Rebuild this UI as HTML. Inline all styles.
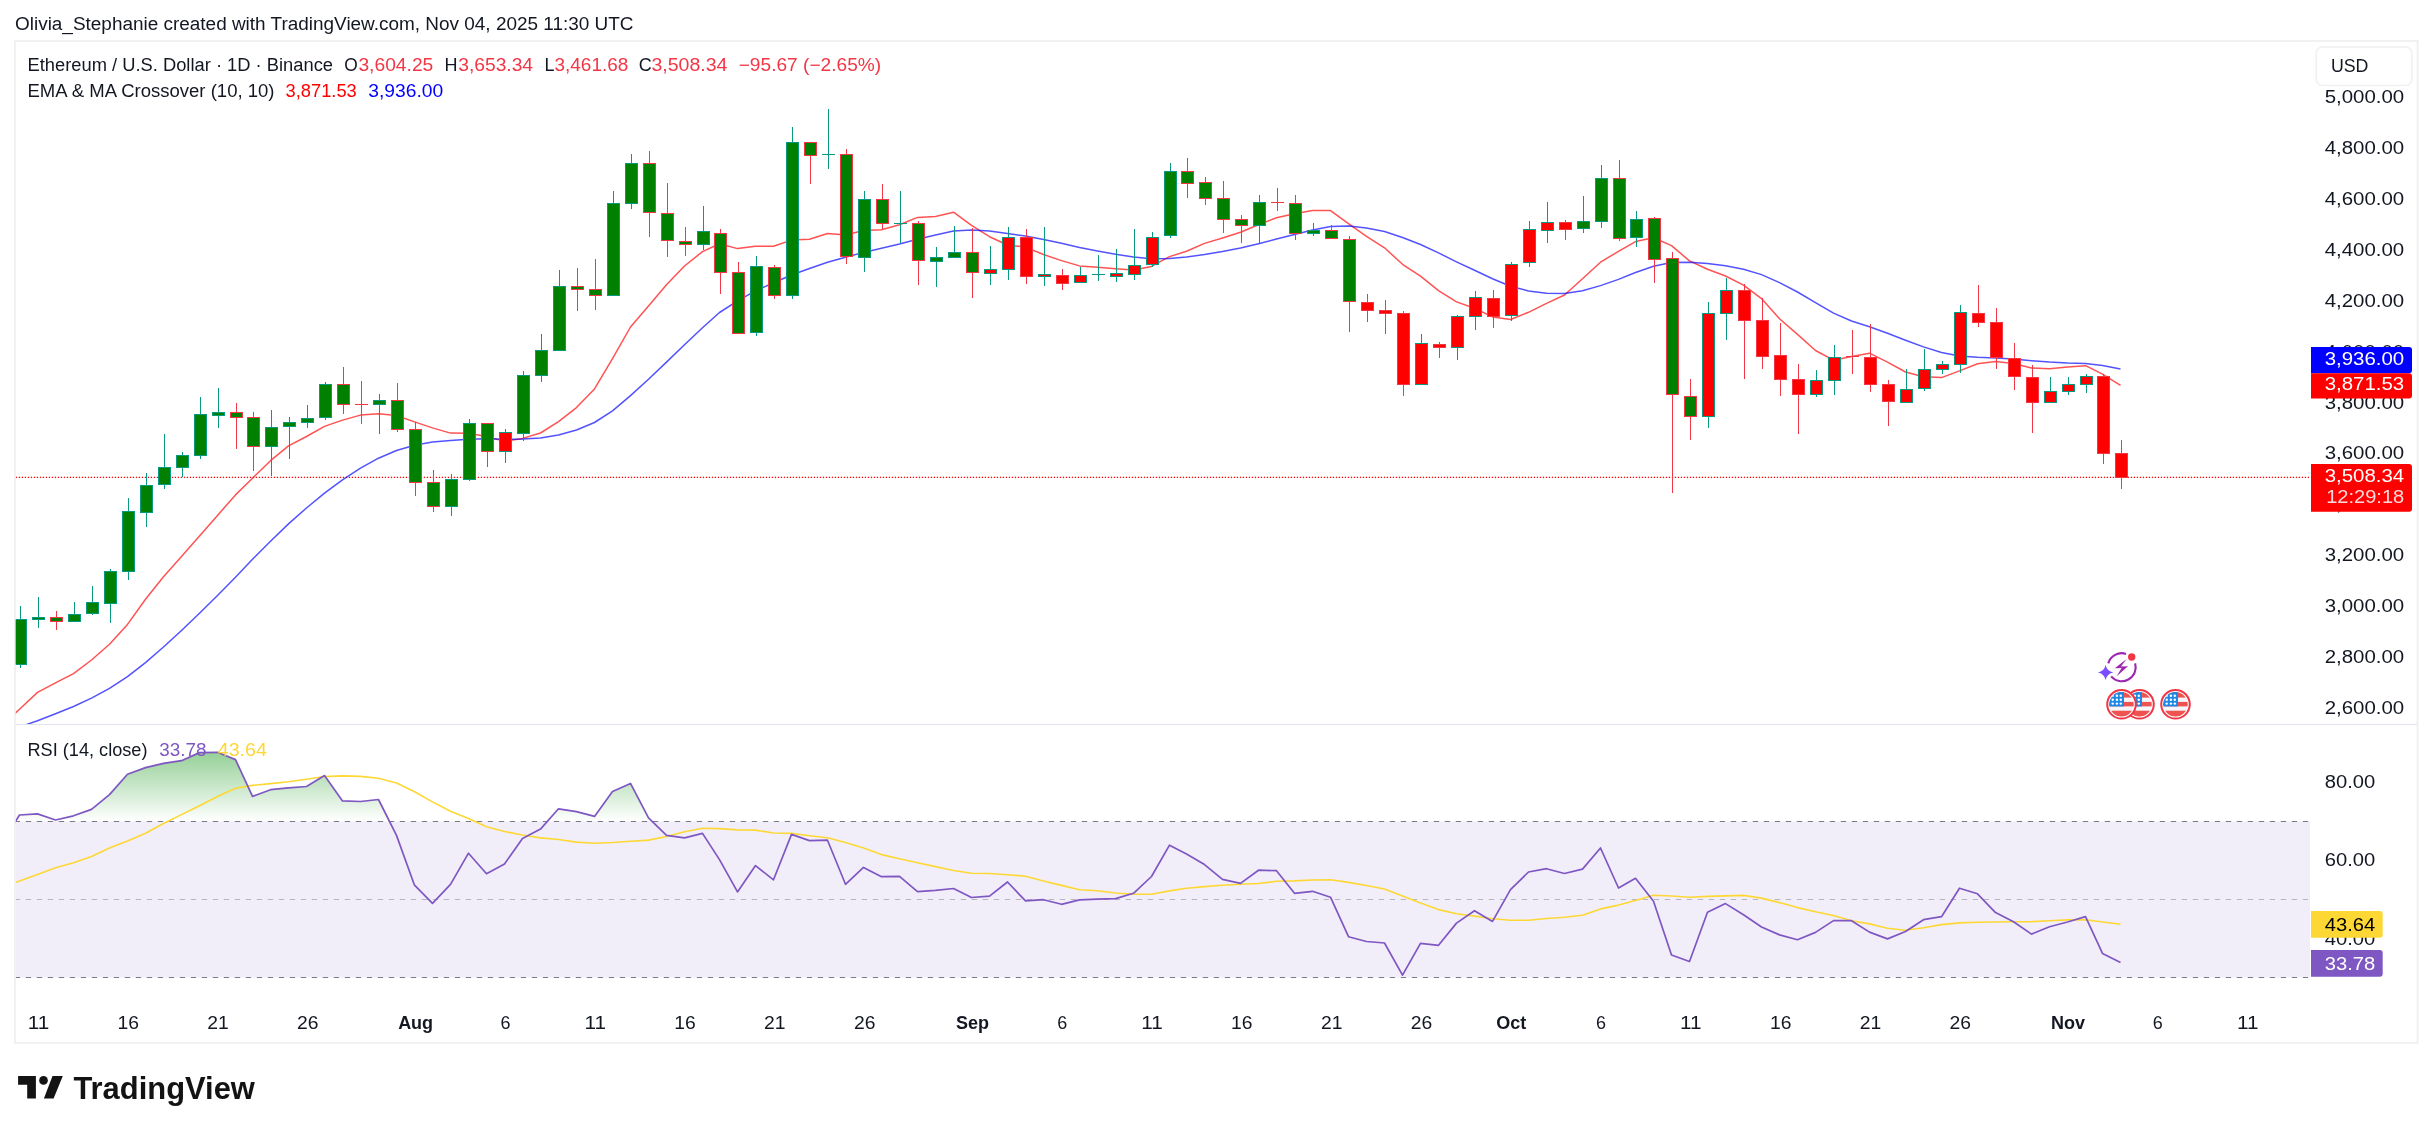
<!DOCTYPE html>
<html><head><meta charset="utf-8"><title>ETH/USD TradingView</title>
<style>
html,body{margin:0;padding:0;background:#fff;width:2433px;height:1133px;overflow:hidden}
svg{position:absolute;left:0;top:0;display:block;will-change:transform}
text{font-family:"Liberation Sans",sans-serif;font-size:18px;fill:#131722}
</style></head><body>
<svg width="2433" height="1133" viewBox="0 0 2433 1133">
<defs>
<clipPath id="cm"><rect x="15.8" y="41.8" width="2294.2" height="682.2"/></clipPath>
<clipPath id="cr"><rect x="15.8" y="725.0" width="2294.2" height="268.0"/></clipPath>
<linearGradient id="gob" gradientUnits="userSpaceOnUse" x1="0" y1="704.5" x2="0" y2="821.5">
<stop offset="0" stop-color="#4CAF50" stop-opacity="1"/><stop offset="1" stop-color="#4CAF50" stop-opacity="0"/></linearGradient>
<linearGradient id="gos" gradientUnits="userSpaceOnUse" x1="0" y1="977.5" x2="0" y2="1094.5">
<stop offset="0" stop-color="#F23645" stop-opacity="0"/><stop offset="1" stop-color="#F23645" stop-opacity="1"/></linearGradient>
</defs>
<rect x="0" y="0" width="2433" height="1133" fill="#fff"/>

<text x="15" y="30.3" textLength="618.5" lengthAdjust="spacingAndGlyphs">Olivia_Stephanie created with TradingView.com, Nov 04, 2025 11:30 UTC</text>
<rect x="15" y="41" width="2402.6" height="1002" fill="none" stroke="#f1f1f2" stroke-width="2"/>
<g clip-path="url(#cm)">
<line x1="15.8" y1="477.4" x2="2309" y2="477.4" stroke="#FF0000" stroke-width="1.3" stroke-dasharray="1.3 1.7"/>
<polyline points="1.5,726.0 19.5,709.2 37.5,692.4 55.5,682.9 73.5,673.6 91.5,660.0 109.5,644.2 127.5,624.4 145.5,599.2 163.5,576.7 181.5,556.4 199.5,535.9 217.5,515.4 235.5,494.9 252.5,478.2 270.5,460.7 288.5,445.8 306.5,436.5 324.5,426.4 342.5,420.1 360.5,415.1 378.5,413.7 396.5,415.5 414.5,421.9 432.5,427.9 450.5,433.1 468.5,433.2 486.5,436.6 504.5,441.4 522.5,438.4 540.5,433.0 558.5,421.6 576.5,407.6 594.5,388.9 612.5,358.6 630.5,327.0 648.5,305.9 666.5,284.8 684.5,266.0 702.5,251.6 719.5,243.8 737.5,248.6 755.5,246.2 773.5,246.2 791.5,240.1 809.5,239.3 827.5,233.5 845.5,235.1 863.5,230.5 881.5,229.7 899.5,224.8 917.5,217.4 935.5,216.6 953.5,212.2 971.5,225.3 989.5,236.7 1007.5,245.0 1025.5,247.1 1043.5,254.5 1061.5,260.6 1079.5,265.9 1097.5,267.2 1115.5,268.8 1133.5,270.0 1151.5,266.4 1169.5,256.6 1186.5,251.3 1204.5,243.4 1222.5,238.0 1240.5,232.2 1258.5,224.8 1276.5,217.7 1294.5,213.8 1312.5,210.4 1330.5,210.6 1348.5,223.6 1366.5,236.3 1384.5,247.8 1402.5,264.3 1420.5,276.1 1438.5,290.6 1456.5,301.9 1474.5,308.3 1492.5,316.9 1510.5,319.5 1528.5,312.3 1546.5,303.4 1564.5,295.0 1582.5,278.7 1600.5,262.2 1618.5,251.3 1635.5,241.6 1653.5,237.8 1671.5,245.6 1689.5,260.9 1707.5,269.2 1725.5,276.0 1743.5,285.1 1761.5,298.6 1779.5,318.8 1797.5,334.4 1815.5,350.5 1833.5,360.2 1851.5,356.4 1869.5,353.2 1887.5,362.1 1905.5,372.0 1923.5,376.8 1941.5,377.6 1959.5,370.9 1977.5,363.7 1995.5,361.4 2013.5,363.4 2031.5,368.0 2049.5,368.7 2067.5,367.0 2085.5,365.7 2102.5,374.1 2120.5,385.4" fill="none" stroke="#FF0000" stroke-opacity="0.68" stroke-width="1.5" stroke-linejoin="round"/>
<polyline points="1.5,733.3 19.5,727.0 37.5,720.7 55.5,713.8 73.5,706.5 91.5,698.1 109.5,688.3 127.5,676.7 145.5,662.6 163.5,647.0 181.5,630.5 199.5,613.3 217.5,595.5 235.5,577.2 252.5,559.2 270.5,541.3 288.5,523.9 306.5,508.0 324.5,493.2 342.5,479.9 360.5,468.1 378.5,458.2 396.5,450.5 414.5,445.3 432.5,442.1 450.5,440.5 468.5,439.2 486.5,438.7 504.5,439.2 522.5,439.1 540.5,437.9 558.5,435.0 576.5,430.0 594.5,422.5 612.5,410.9 630.5,395.6 648.5,379.3 666.5,362.1 684.5,344.7 702.5,327.7 719.5,312.5 737.5,300.9 755.5,290.9 773.5,282.8 791.5,275.0 809.5,268.5 827.5,262.2 845.5,257.2 863.5,252.4 881.5,248.3 899.5,244.0 917.5,239.2 935.5,235.1 953.5,230.9 971.5,229.9 989.5,231.1 1007.5,233.6 1025.5,236.1 1043.5,239.4 1061.5,243.3 1079.5,247.4 1097.5,251.0 1115.5,254.2 1133.5,257.1 1151.5,258.8 1169.5,258.4 1186.5,257.1 1204.5,254.6 1222.5,251.6 1240.5,248.1 1258.5,243.8 1276.5,239.1 1294.5,234.5 1312.5,230.1 1330.5,226.6 1348.5,226.0 1366.5,227.9 1384.5,231.5 1402.5,237.5 1420.5,244.5 1438.5,252.9 1456.5,261.8 1474.5,270.3 1492.5,278.7 1510.5,286.2 1528.5,290.9 1546.5,293.2 1564.5,293.5 1582.5,290.8 1600.5,285.6 1618.5,279.4 1635.5,272.5 1653.5,266.2 1671.5,262.5 1689.5,262.2 1707.5,263.4 1725.5,265.7 1743.5,269.3 1761.5,274.6 1779.5,282.6 1797.5,292.0 1815.5,302.7 1833.5,313.1 1851.5,321.0 1869.5,326.8 1887.5,333.3 1905.5,340.3 1923.5,346.9 1941.5,352.5 1959.5,355.9 1977.5,357.3 1995.5,358.0 2013.5,359.0 2031.5,360.7 2049.5,362.1 2067.5,363.0 2085.5,363.5 2102.5,365.4 2120.5,369.1" fill="none" stroke="#0000FF" stroke-opacity="0.68" stroke-width="1.5" stroke-linejoin="round"/>
<rect x="20" y="606" width="1" height="62" fill="#089981"/>
<rect x="14" y="619" width="13" height="46" fill="#089981"/>
<rect x="15" y="620" width="11" height="44" fill="#008000"/>
<rect x="38" y="597" width="1" height="31" fill="#089981"/>
<rect x="32" y="617" width="13" height="3" fill="#089981"/>
<rect x="33" y="618" width="11" height="1" fill="#008000"/>
<rect x="56" y="611" width="1" height="19" fill="#F23645"/>
<rect x="50" y="617" width="13" height="5" fill="#F23645"/>
<rect x="51" y="618" width="11" height="3" fill="#008000"/>
<rect x="74" y="602" width="1" height="20" fill="#089981"/>
<rect x="68" y="614" width="13" height="8" fill="#089981"/>
<rect x="69" y="615" width="11" height="6" fill="#008000"/>
<rect x="92" y="586" width="1" height="29" fill="#089981"/>
<rect x="86" y="602" width="13" height="12" fill="#089981"/>
<rect x="87" y="603" width="11" height="10" fill="#008000"/>
<rect x="110" y="569" width="1" height="54" fill="#089981"/>
<rect x="104" y="571" width="13" height="33" fill="#089981"/>
<rect x="105" y="572" width="11" height="31" fill="#008000"/>
<rect x="128" y="498" width="1" height="82" fill="#089981"/>
<rect x="122" y="511" width="13" height="61" fill="#089981"/>
<rect x="123" y="512" width="11" height="59" fill="#008000"/>
<rect x="146" y="473" width="1" height="54" fill="#089981"/>
<rect x="140" y="485" width="13" height="28" fill="#089981"/>
<rect x="141" y="486" width="11" height="26" fill="#008000"/>
<rect x="164" y="434" width="1" height="55" fill="#089981"/>
<rect x="158" y="467" width="13" height="18" fill="#089981"/>
<rect x="159" y="468" width="11" height="16" fill="#008000"/>
<rect x="182" y="452" width="1" height="25" fill="#089981"/>
<rect x="176" y="455" width="13" height="13" fill="#089981"/>
<rect x="177" y="456" width="11" height="11" fill="#008000"/>
<rect x="200" y="397" width="1" height="62" fill="#089981"/>
<rect x="194" y="414" width="13" height="42" fill="#089981"/>
<rect x="195" y="415" width="11" height="40" fill="#008000"/>
<rect x="218" y="388" width="1" height="40" fill="#089981"/>
<rect x="212" y="412" width="13" height="4" fill="#089981"/>
<rect x="213" y="413" width="11" height="2" fill="#008000"/>
<rect x="236" y="403" width="1" height="46" fill="#F23645"/>
<rect x="230" y="412" width="13" height="6" fill="#F23645"/>
<rect x="231" y="413" width="11" height="4" fill="#008000"/>
<rect x="253" y="412" width="1" height="59" fill="#F23645"/>
<rect x="247" y="417" width="13" height="30" fill="#F23645"/>
<rect x="248" y="418" width="11" height="28" fill="#008000"/>
<rect x="271" y="410" width="1" height="66" fill="#089981"/>
<rect x="265" y="427" width="13" height="20" fill="#089981"/>
<rect x="266" y="428" width="11" height="18" fill="#008000"/>
<rect x="289" y="417" width="1" height="42" fill="#089981"/>
<rect x="283" y="422" width="13" height="5" fill="#089981"/>
<rect x="284" y="423" width="11" height="3" fill="#008000"/>
<rect x="307" y="405" width="1" height="23" fill="#089981"/>
<rect x="301" y="418" width="13" height="5" fill="#089981"/>
<rect x="302" y="419" width="11" height="3" fill="#008000"/>
<rect x="325" y="382" width="1" height="38" fill="#089981"/>
<rect x="319" y="384" width="13" height="34" fill="#089981"/>
<rect x="320" y="385" width="11" height="32" fill="#008000"/>
<rect x="343" y="367" width="1" height="47" fill="#F23645"/>
<rect x="337" y="384" width="13" height="21" fill="#F23645"/>
<rect x="338" y="385" width="11" height="19" fill="#008000"/>
<rect x="361" y="381" width="1" height="43" fill="#F23645"/>
<rect x="355" y="404" width="13" height="1" fill="#F23645"/>
<rect x="379" y="394" width="1" height="40" fill="#089981"/>
<rect x="373" y="400" width="13" height="5" fill="#089981"/>
<rect x="374" y="401" width="11" height="3" fill="#008000"/>
<rect x="397" y="383" width="1" height="49" fill="#F23645"/>
<rect x="391" y="400" width="13" height="30" fill="#F23645"/>
<rect x="392" y="401" width="11" height="28" fill="#008000"/>
<rect x="415" y="422" width="1" height="74" fill="#F23645"/>
<rect x="409" y="429" width="13" height="54" fill="#F23645"/>
<rect x="410" y="430" width="11" height="52" fill="#008000"/>
<rect x="433" y="470" width="1" height="42" fill="#F23645"/>
<rect x="427" y="482" width="13" height="25" fill="#F23645"/>
<rect x="428" y="483" width="11" height="23" fill="#008000"/>
<rect x="451" y="474" width="1" height="42" fill="#089981"/>
<rect x="445" y="479" width="13" height="28" fill="#089981"/>
<rect x="446" y="480" width="11" height="26" fill="#008000"/>
<rect x="469" y="419" width="1" height="62" fill="#089981"/>
<rect x="463" y="423" width="13" height="57" fill="#089981"/>
<rect x="464" y="424" width="11" height="55" fill="#008000"/>
<rect x="487" y="423" width="1" height="44" fill="#F23645"/>
<rect x="481" y="423" width="13" height="29" fill="#F23645"/>
<rect x="482" y="424" width="11" height="27" fill="#008000"/>
<rect x="505" y="429" width="1" height="34" fill="#089981"/>
<rect x="499" y="432" width="13" height="20" fill="#089981"/>
<rect x="500" y="433" width="11" height="18" fill="#FF0000"/>
<rect x="523" y="371" width="1" height="70" fill="#089981"/>
<rect x="517" y="375" width="13" height="59" fill="#089981"/>
<rect x="518" y="376" width="11" height="57" fill="#008000"/>
<rect x="541" y="334" width="1" height="48" fill="#089981"/>
<rect x="535" y="350" width="13" height="26" fill="#089981"/>
<rect x="536" y="351" width="11" height="24" fill="#008000"/>
<rect x="559" y="270" width="1" height="81" fill="#089981"/>
<rect x="553" y="286" width="13" height="65" fill="#089981"/>
<rect x="554" y="287" width="11" height="63" fill="#008000"/>
<rect x="577" y="268" width="1" height="43" fill="#F23645"/>
<rect x="571" y="286" width="13" height="4" fill="#F23645"/>
<rect x="572" y="287" width="11" height="2" fill="#008000"/>
<rect x="595" y="259" width="1" height="51" fill="#F23645"/>
<rect x="589" y="289" width="13" height="7" fill="#F23645"/>
<rect x="590" y="290" width="11" height="5" fill="#008000"/>
<rect x="613" y="191" width="1" height="105" fill="#089981"/>
<rect x="607" y="203" width="13" height="93" fill="#089981"/>
<rect x="608" y="204" width="11" height="91" fill="#008000"/>
<rect x="631" y="154" width="1" height="55" fill="#089981"/>
<rect x="625" y="163" width="13" height="41" fill="#089981"/>
<rect x="626" y="164" width="11" height="39" fill="#008000"/>
<rect x="649" y="151" width="1" height="86" fill="#F23645"/>
<rect x="643" y="163" width="13" height="50" fill="#F23645"/>
<rect x="644" y="164" width="11" height="48" fill="#008000"/>
<rect x="667" y="183" width="1" height="74" fill="#F23645"/>
<rect x="661" y="213" width="13" height="28" fill="#F23645"/>
<rect x="662" y="214" width="11" height="26" fill="#008000"/>
<rect x="685" y="227" width="1" height="29" fill="#F23645"/>
<rect x="679" y="241" width="13" height="4" fill="#F23645"/>
<rect x="680" y="242" width="11" height="2" fill="#008000"/>
<rect x="703" y="206" width="1" height="44" fill="#089981"/>
<rect x="697" y="231" width="13" height="14" fill="#089981"/>
<rect x="698" y="232" width="11" height="12" fill="#008000"/>
<rect x="720" y="229" width="1" height="65" fill="#F23645"/>
<rect x="714" y="233" width="13" height="40" fill="#F23645"/>
<rect x="715" y="234" width="11" height="38" fill="#008000"/>
<rect x="738" y="262" width="1" height="71" fill="#F23645"/>
<rect x="732" y="272" width="13" height="62" fill="#F23645"/>
<rect x="733" y="273" width="11" height="60" fill="#008000"/>
<rect x="756" y="256" width="1" height="80" fill="#089981"/>
<rect x="750" y="266" width="13" height="67" fill="#089981"/>
<rect x="751" y="267" width="11" height="65" fill="#008000"/>
<rect x="774" y="265" width="1" height="34" fill="#F23645"/>
<rect x="768" y="267" width="13" height="29" fill="#F23645"/>
<rect x="769" y="268" width="11" height="27" fill="#008000"/>
<rect x="792" y="127" width="1" height="172" fill="#089981"/>
<rect x="786" y="142" width="13" height="154" fill="#089981"/>
<rect x="787" y="143" width="11" height="152" fill="#008000"/>
<rect x="810" y="142" width="1" height="42" fill="#F23645"/>
<rect x="804" y="142" width="13" height="14" fill="#F23645"/>
<rect x="805" y="143" width="11" height="12" fill="#008000"/>
<rect x="828" y="109" width="1" height="60" fill="#089981"/>
<rect x="822" y="154" width="13" height="1" fill="#089981"/>
<rect x="846" y="149" width="1" height="115" fill="#F23645"/>
<rect x="840" y="154" width="13" height="103" fill="#F23645"/>
<rect x="841" y="155" width="11" height="101" fill="#008000"/>
<rect x="864" y="191" width="1" height="81" fill="#089981"/>
<rect x="858" y="199" width="13" height="59" fill="#089981"/>
<rect x="859" y="200" width="11" height="57" fill="#008000"/>
<rect x="882" y="184" width="1" height="45" fill="#F23645"/>
<rect x="876" y="199" width="13" height="25" fill="#F23645"/>
<rect x="877" y="200" width="11" height="23" fill="#008000"/>
<rect x="900" y="191" width="1" height="52" fill="#089981"/>
<rect x="894" y="223" width="13" height="1" fill="#089981"/>
<rect x="918" y="221" width="1" height="64" fill="#F23645"/>
<rect x="912" y="223" width="13" height="38" fill="#F23645"/>
<rect x="913" y="224" width="11" height="36" fill="#008000"/>
<rect x="936" y="247" width="1" height="40" fill="#089981"/>
<rect x="930" y="257" width="13" height="5" fill="#089981"/>
<rect x="931" y="258" width="11" height="3" fill="#008000"/>
<rect x="954" y="226" width="1" height="32" fill="#089981"/>
<rect x="948" y="252" width="13" height="6" fill="#089981"/>
<rect x="949" y="253" width="11" height="4" fill="#008000"/>
<rect x="972" y="228" width="1" height="70" fill="#F23645"/>
<rect x="966" y="252" width="13" height="21" fill="#F23645"/>
<rect x="967" y="253" width="11" height="19" fill="#008000"/>
<rect x="990" y="246" width="1" height="39" fill="#089981"/>
<rect x="984" y="269" width="13" height="5" fill="#089981"/>
<rect x="985" y="270" width="11" height="3" fill="#FF0000"/>
<rect x="1008" y="227" width="1" height="53" fill="#089981"/>
<rect x="1002" y="237" width="13" height="33" fill="#089981"/>
<rect x="1003" y="238" width="11" height="31" fill="#FF0000"/>
<rect x="1026" y="229" width="1" height="55" fill="#F23645"/>
<rect x="1020" y="237" width="13" height="40" fill="#F23645"/>
<rect x="1021" y="238" width="11" height="38" fill="#FF0000"/>
<rect x="1044" y="227" width="1" height="59" fill="#089981"/>
<rect x="1038" y="274" width="13" height="3" fill="#089981"/>
<rect x="1039" y="275" width="11" height="1" fill="#FF0000"/>
<rect x="1062" y="269" width="1" height="21" fill="#F23645"/>
<rect x="1056" y="275" width="13" height="9" fill="#F23645"/>
<rect x="1057" y="276" width="11" height="7" fill="#FF0000"/>
<rect x="1080" y="267" width="1" height="15" fill="#089981"/>
<rect x="1074" y="275" width="13" height="8" fill="#089981"/>
<rect x="1075" y="276" width="11" height="6" fill="#FF0000"/>
<rect x="1098" y="255" width="1" height="26" fill="#089981"/>
<rect x="1092" y="274" width="13" height="1" fill="#089981"/>
<rect x="1116" y="249" width="1" height="33" fill="#089981"/>
<rect x="1110" y="273" width="13" height="4" fill="#089981"/>
<rect x="1111" y="274" width="11" height="2" fill="#FF0000"/>
<rect x="1134" y="229" width="1" height="51" fill="#089981"/>
<rect x="1128" y="265" width="13" height="10" fill="#089981"/>
<rect x="1129" y="266" width="11" height="8" fill="#FF0000"/>
<rect x="1152" y="232" width="1" height="35" fill="#089981"/>
<rect x="1146" y="237" width="13" height="28" fill="#089981"/>
<rect x="1147" y="238" width="11" height="26" fill="#FF0000"/>
<rect x="1170" y="163" width="1" height="75" fill="#089981"/>
<rect x="1164" y="171" width="13" height="65" fill="#089981"/>
<rect x="1165" y="172" width="11" height="63" fill="#008000"/>
<rect x="1187" y="158" width="1" height="40" fill="#F23645"/>
<rect x="1181" y="171" width="13" height="13" fill="#F23645"/>
<rect x="1182" y="172" width="11" height="11" fill="#008000"/>
<rect x="1205" y="177" width="1" height="28" fill="#F23645"/>
<rect x="1199" y="182" width="13" height="17" fill="#F23645"/>
<rect x="1200" y="183" width="11" height="15" fill="#008000"/>
<rect x="1223" y="181" width="1" height="52" fill="#F23645"/>
<rect x="1217" y="198" width="13" height="22" fill="#F23645"/>
<rect x="1218" y="199" width="11" height="20" fill="#008000"/>
<rect x="1241" y="215" width="1" height="28" fill="#F23645"/>
<rect x="1235" y="219" width="13" height="7" fill="#F23645"/>
<rect x="1236" y="220" width="11" height="5" fill="#008000"/>
<rect x="1259" y="195" width="1" height="48" fill="#089981"/>
<rect x="1253" y="202" width="13" height="24" fill="#089981"/>
<rect x="1254" y="203" width="11" height="22" fill="#008000"/>
<rect x="1277" y="188" width="1" height="23" fill="#F23645"/>
<rect x="1271" y="202" width="13" height="1" fill="#F23645"/>
<rect x="1295" y="195" width="1" height="45" fill="#F23645"/>
<rect x="1289" y="203" width="13" height="31" fill="#F23645"/>
<rect x="1290" y="204" width="11" height="29" fill="#008000"/>
<rect x="1313" y="223" width="1" height="13" fill="#089981"/>
<rect x="1307" y="230" width="13" height="4" fill="#089981"/>
<rect x="1308" y="231" width="11" height="2" fill="#008000"/>
<rect x="1331" y="225" width="1" height="13" fill="#F23645"/>
<rect x="1325" y="230" width="13" height="9" fill="#F23645"/>
<rect x="1326" y="231" width="11" height="7" fill="#008000"/>
<rect x="1349" y="236" width="1" height="96" fill="#F23645"/>
<rect x="1343" y="239" width="13" height="63" fill="#F23645"/>
<rect x="1344" y="240" width="11" height="61" fill="#008000"/>
<rect x="1367" y="294" width="1" height="28" fill="#F23645"/>
<rect x="1361" y="302" width="13" height="9" fill="#F23645"/>
<rect x="1362" y="303" width="11" height="7" fill="#FF0000"/>
<rect x="1385" y="300" width="1" height="34" fill="#F23645"/>
<rect x="1379" y="310" width="13" height="4" fill="#F23645"/>
<rect x="1380" y="311" width="11" height="2" fill="#FF0000"/>
<rect x="1403" y="311" width="1" height="85" fill="#F23645"/>
<rect x="1397" y="313" width="13" height="72" fill="#F23645"/>
<rect x="1398" y="314" width="11" height="70" fill="#FF0000"/>
<rect x="1421" y="334" width="1" height="51" fill="#089981"/>
<rect x="1415" y="343" width="13" height="42" fill="#089981"/>
<rect x="1416" y="344" width="11" height="40" fill="#FF0000"/>
<rect x="1439" y="342" width="1" height="16" fill="#F23645"/>
<rect x="1433" y="344" width="13" height="4" fill="#F23645"/>
<rect x="1434" y="345" width="11" height="2" fill="#FF0000"/>
<rect x="1457" y="315" width="1" height="45" fill="#089981"/>
<rect x="1451" y="316" width="13" height="32" fill="#089981"/>
<rect x="1452" y="317" width="11" height="30" fill="#FF0000"/>
<rect x="1475" y="291" width="1" height="39" fill="#089981"/>
<rect x="1469" y="297" width="13" height="20" fill="#089981"/>
<rect x="1470" y="298" width="11" height="18" fill="#FF0000"/>
<rect x="1493" y="290" width="1" height="38" fill="#F23645"/>
<rect x="1487" y="298" width="13" height="19" fill="#F23645"/>
<rect x="1488" y="299" width="11" height="17" fill="#FF0000"/>
<rect x="1511" y="262" width="1" height="59" fill="#089981"/>
<rect x="1505" y="264" width="13" height="52" fill="#089981"/>
<rect x="1506" y="265" width="11" height="50" fill="#FF0000"/>
<rect x="1529" y="221" width="1" height="46" fill="#089981"/>
<rect x="1523" y="229" width="13" height="34" fill="#089981"/>
<rect x="1524" y="230" width="11" height="32" fill="#FF0000"/>
<rect x="1547" y="202" width="1" height="41" fill="#089981"/>
<rect x="1541" y="222" width="13" height="9" fill="#089981"/>
<rect x="1542" y="223" width="11" height="7" fill="#FF0000"/>
<rect x="1565" y="220" width="1" height="20" fill="#F23645"/>
<rect x="1559" y="222" width="13" height="8" fill="#F23645"/>
<rect x="1560" y="223" width="11" height="6" fill="#FF0000"/>
<rect x="1583" y="196" width="1" height="37" fill="#089981"/>
<rect x="1577" y="221" width="13" height="8" fill="#089981"/>
<rect x="1578" y="222" width="11" height="6" fill="#008000"/>
<rect x="1601" y="165" width="1" height="63" fill="#089981"/>
<rect x="1595" y="178" width="13" height="44" fill="#089981"/>
<rect x="1596" y="179" width="11" height="42" fill="#008000"/>
<rect x="1619" y="160" width="1" height="81" fill="#F23645"/>
<rect x="1613" y="178" width="13" height="61" fill="#F23645"/>
<rect x="1614" y="179" width="11" height="59" fill="#008000"/>
<rect x="1636" y="211" width="1" height="36" fill="#089981"/>
<rect x="1630" y="219" width="13" height="19" fill="#089981"/>
<rect x="1631" y="220" width="11" height="17" fill="#008000"/>
<rect x="1654" y="217" width="1" height="66" fill="#F23645"/>
<rect x="1648" y="218" width="13" height="42" fill="#F23645"/>
<rect x="1649" y="219" width="11" height="40" fill="#008000"/>
<rect x="1672" y="252" width="1" height="241" fill="#F23645"/>
<rect x="1666" y="258" width="13" height="137" fill="#F23645"/>
<rect x="1667" y="259" width="11" height="135" fill="#008000"/>
<rect x="1690" y="379" width="1" height="61" fill="#F23645"/>
<rect x="1684" y="396" width="13" height="21" fill="#F23645"/>
<rect x="1685" y="397" width="11" height="19" fill="#008000"/>
<rect x="1708" y="302" width="1" height="126" fill="#089981"/>
<rect x="1702" y="313" width="13" height="104" fill="#089981"/>
<rect x="1703" y="314" width="11" height="102" fill="#FF0000"/>
<rect x="1726" y="278" width="1" height="62" fill="#089981"/>
<rect x="1720" y="290" width="13" height="24" fill="#089981"/>
<rect x="1721" y="291" width="11" height="22" fill="#FF0000"/>
<rect x="1744" y="284" width="1" height="95" fill="#F23645"/>
<rect x="1738" y="290" width="13" height="31" fill="#F23645"/>
<rect x="1739" y="291" width="11" height="29" fill="#FF0000"/>
<rect x="1762" y="298" width="1" height="71" fill="#F23645"/>
<rect x="1756" y="320" width="13" height="37" fill="#F23645"/>
<rect x="1757" y="321" width="11" height="35" fill="#FF0000"/>
<rect x="1780" y="323" width="1" height="73" fill="#F23645"/>
<rect x="1774" y="355" width="13" height="25" fill="#F23645"/>
<rect x="1775" y="356" width="11" height="23" fill="#FF0000"/>
<rect x="1798" y="364" width="1" height="70" fill="#F23645"/>
<rect x="1792" y="379" width="13" height="16" fill="#F23645"/>
<rect x="1793" y="380" width="11" height="14" fill="#FF0000"/>
<rect x="1816" y="370" width="1" height="27" fill="#089981"/>
<rect x="1810" y="380" width="13" height="15" fill="#089981"/>
<rect x="1811" y="381" width="11" height="13" fill="#FF0000"/>
<rect x="1834" y="345" width="1" height="50" fill="#089981"/>
<rect x="1828" y="357" width="13" height="24" fill="#089981"/>
<rect x="1829" y="358" width="11" height="22" fill="#FF0000"/>
<rect x="1852" y="330" width="1" height="44" fill="#F23645"/>
<rect x="1846" y="356" width="13" height="1" fill="#F23645"/>
<rect x="1870" y="324" width="1" height="68" fill="#F23645"/>
<rect x="1864" y="357" width="13" height="28" fill="#F23645"/>
<rect x="1865" y="358" width="11" height="26" fill="#FF0000"/>
<rect x="1888" y="380" width="1" height="46" fill="#F23645"/>
<rect x="1882" y="384" width="13" height="18" fill="#F23645"/>
<rect x="1883" y="385" width="11" height="16" fill="#FF0000"/>
<rect x="1906" y="369" width="1" height="33" fill="#089981"/>
<rect x="1900" y="389" width="13" height="14" fill="#089981"/>
<rect x="1901" y="390" width="11" height="12" fill="#FF0000"/>
<rect x="1924" y="349" width="1" height="42" fill="#089981"/>
<rect x="1918" y="369" width="13" height="20" fill="#089981"/>
<rect x="1919" y="370" width="11" height="18" fill="#FF0000"/>
<rect x="1942" y="361" width="1" height="13" fill="#089981"/>
<rect x="1936" y="364" width="13" height="6" fill="#089981"/>
<rect x="1937" y="365" width="11" height="4" fill="#FF0000"/>
<rect x="1960" y="305" width="1" height="68" fill="#089981"/>
<rect x="1954" y="312" width="13" height="53" fill="#089981"/>
<rect x="1955" y="313" width="11" height="51" fill="#FF0000"/>
<rect x="1978" y="285" width="1" height="42" fill="#F23645"/>
<rect x="1972" y="313" width="13" height="10" fill="#F23645"/>
<rect x="1973" y="314" width="11" height="8" fill="#FF0000"/>
<rect x="1996" y="308" width="1" height="61" fill="#F23645"/>
<rect x="1990" y="322" width="13" height="36" fill="#F23645"/>
<rect x="1991" y="323" width="11" height="34" fill="#FF0000"/>
<rect x="2014" y="343" width="1" height="47" fill="#F23645"/>
<rect x="2008" y="358" width="13" height="19" fill="#F23645"/>
<rect x="2009" y="359" width="11" height="17" fill="#FF0000"/>
<rect x="2032" y="365" width="1" height="68" fill="#F23645"/>
<rect x="2026" y="377" width="13" height="26" fill="#F23645"/>
<rect x="2027" y="378" width="11" height="24" fill="#FF0000"/>
<rect x="2050" y="377" width="1" height="26" fill="#089981"/>
<rect x="2044" y="391" width="13" height="12" fill="#089981"/>
<rect x="2045" y="392" width="11" height="10" fill="#FF0000"/>
<rect x="2068" y="377" width="1" height="18" fill="#089981"/>
<rect x="2062" y="384" width="13" height="8" fill="#089981"/>
<rect x="2063" y="385" width="11" height="6" fill="#FF0000"/>
<rect x="2086" y="374" width="1" height="19" fill="#089981"/>
<rect x="2080" y="376" width="13" height="9" fill="#089981"/>
<rect x="2081" y="377" width="11" height="7" fill="#FF0000"/>
<rect x="2103" y="374" width="1" height="90" fill="#F23645"/>
<rect x="2097" y="376" width="13" height="78" fill="#F23645"/>
<rect x="2098" y="377" width="11" height="76" fill="#FF0000"/>
<rect x="2121" y="440" width="1" height="49" fill="#F23645"/>
<rect x="2115" y="453" width="13" height="25" fill="#F23645"/>
<rect x="2116" y="454" width="11" height="23" fill="#FF0000"/>
</g>
<rect x="15.8" y="724" width="2401.2" height="1" fill="#e0e3eb"/>
<g clip-path="url(#cr)">
<rect x="15.8" y="821.5" width="2294.2" height="156.0" fill="#F2EEF9"/>
<clipPath id="cab"><rect x="0" y="0" width="2433" height="821.50"/></clipPath>
<clipPath id="cbl"><rect x="0" y="977.50" width="2433" height="300"/></clipPath>
<polygon points="1.5,821.5 1.5,844.0 19.5,815.0 37.5,813.9 55.5,820.0 73.5,815.8 91.5,809.4 109.5,794.6 127.5,774.2 145.5,767.6 163.5,763.4 181.5,760.7 199.5,752.6 217.5,752.3 235.5,759.6 252.5,796.4 270.5,789.7 288.5,787.9 306.5,786.5 324.5,775.6 342.5,800.9 360.5,801.5 378.5,799.5 396.5,835.4 414.5,885.2 432.5,903.3 450.5,884.4 468.5,853.2 486.5,873.8 504.5,863.9 522.5,838.4 540.5,829.1 558.5,808.8 576.5,811.6 594.5,816.4 612.5,791.6 630.5,783.4 648.5,817.8 666.5,835.3 684.5,837.8 702.5,833.4 719.5,859.6 737.5,891.9 755.5,865.6 773.5,879.8 791.5,834.4 809.5,840.6 827.5,840.2 845.5,884.3 863.5,867.4 881.5,876.7 899.5,876.4 917.5,891.6 935.5,890.4 953.5,888.5 971.5,897.5 989.5,896.1 1007.5,882.0 1025.5,900.9 1043.5,899.7 1061.5,904.3 1079.5,899.9 1097.5,899.2 1115.5,898.6 1133.5,893.3 1151.5,876.5 1169.5,845.2 1186.5,854.0 1204.5,864.6 1222.5,879.3 1240.5,883.4 1258.5,870.2 1276.5,870.7 1294.5,893.3 1312.5,891.3 1330.5,897.2 1348.5,936.7 1366.5,941.5 1384.5,943.0 1402.5,975.2 1420.5,943.4 1438.5,945.3 1456.5,923.1 1474.5,910.7 1492.5,921.4 1510.5,889.6 1528.5,872.0 1546.5,868.7 1564.5,873.5 1582.5,869.1 1600.5,848.0 1618.5,888.0 1635.5,878.3 1653.5,901.2 1671.5,955.0 1689.5,961.5 1707.5,912.3 1725.5,903.6 1743.5,914.7 1761.5,927.0 1779.5,934.9 1797.5,939.7 1815.5,932.4 1833.5,920.6 1851.5,920.7 1869.5,932.1 1887.5,938.9 1905.5,931.5 1923.5,919.7 1941.5,916.7 1959.5,888.2 1977.5,893.8 1995.5,912.6 2013.5,921.8 2031.5,934.1 2049.5,926.7 2067.5,922.0 2085.5,916.6 2102.5,953.4 2120.5,962.5 2120.5,821.5" fill="url(#gob)" clip-path="url(#cab)"/>
<polygon points="1.5,821.5 1.5,844.0 19.5,815.0 37.5,813.9 55.5,820.0 73.5,815.8 91.5,809.4 109.5,794.6 127.5,774.2 145.5,767.6 163.5,763.4 181.5,760.7 199.5,752.6 217.5,752.3 235.5,759.6 252.5,796.4 270.5,789.7 288.5,787.9 306.5,786.5 324.5,775.6 342.5,800.9 360.5,801.5 378.5,799.5 396.5,835.4 414.5,885.2 432.5,903.3 450.5,884.4 468.5,853.2 486.5,873.8 504.5,863.9 522.5,838.4 540.5,829.1 558.5,808.8 576.5,811.6 594.5,816.4 612.5,791.6 630.5,783.4 648.5,817.8 666.5,835.3 684.5,837.8 702.5,833.4 719.5,859.6 737.5,891.9 755.5,865.6 773.5,879.8 791.5,834.4 809.5,840.6 827.5,840.2 845.5,884.3 863.5,867.4 881.5,876.7 899.5,876.4 917.5,891.6 935.5,890.4 953.5,888.5 971.5,897.5 989.5,896.1 1007.5,882.0 1025.5,900.9 1043.5,899.7 1061.5,904.3 1079.5,899.9 1097.5,899.2 1115.5,898.6 1133.5,893.3 1151.5,876.5 1169.5,845.2 1186.5,854.0 1204.5,864.6 1222.5,879.3 1240.5,883.4 1258.5,870.2 1276.5,870.7 1294.5,893.3 1312.5,891.3 1330.5,897.2 1348.5,936.7 1366.5,941.5 1384.5,943.0 1402.5,975.2 1420.5,943.4 1438.5,945.3 1456.5,923.1 1474.5,910.7 1492.5,921.4 1510.5,889.6 1528.5,872.0 1546.5,868.7 1564.5,873.5 1582.5,869.1 1600.5,848.0 1618.5,888.0 1635.5,878.3 1653.5,901.2 1671.5,955.0 1689.5,961.5 1707.5,912.3 1725.5,903.6 1743.5,914.7 1761.5,927.0 1779.5,934.9 1797.5,939.7 1815.5,932.4 1833.5,920.6 1851.5,920.7 1869.5,932.1 1887.5,938.9 1905.5,931.5 1923.5,919.7 1941.5,916.7 1959.5,888.2 1977.5,893.8 1995.5,912.6 2013.5,921.8 2031.5,934.1 2049.5,926.7 2067.5,922.0 2085.5,916.6 2102.5,953.4 2120.5,962.5 2120.5,821.5" fill="url(#gos)" clip-path="url(#cbl)"/>
<line x1="15.8" y1="821.5" x2="2310.0" y2="821.5" stroke="#787B86" stroke-width="1" stroke-dasharray="5.3 5.7" stroke-dashoffset="1"/>
<line x1="15.8" y1="899.5" x2="2310.0" y2="899.5" stroke="#787B86" stroke-opacity="0.5" stroke-width="1" stroke-dasharray="5.3 5.7" stroke-dashoffset="1"/>
<line x1="15.8" y1="977.5" x2="2310.0" y2="977.5" stroke="#787B86" stroke-width="1" stroke-dasharray="5.3 5.7" stroke-dashoffset="1"/>
<polyline points="1.5,888.0 19.5,881.0 37.5,874.4 55.5,867.7 73.5,862.7 91.5,856.5 109.5,848.0 127.5,841.0 145.5,833.3 163.5,823.5 181.5,814.6 199.5,805.7 217.5,796.5 235.5,788.2 252.5,785.4 270.5,783.6 288.5,781.7 306.5,779.3 324.5,776.5 342.5,775.9 360.5,776.4 378.5,778.2 396.5,783.0 414.5,791.7 432.5,801.9 450.5,811.3 468.5,818.5 486.5,826.7 504.5,831.5 522.5,835.0 540.5,837.9 558.5,839.5 576.5,842.1 594.5,843.2 612.5,842.5 630.5,841.3 648.5,840.1 666.5,836.5 684.5,831.8 702.5,828.2 719.5,828.6 737.5,829.9 755.5,830.1 773.5,833.0 791.5,833.4 809.5,835.7 827.5,837.7 845.5,842.6 863.5,848.0 881.5,854.6 899.5,858.8 917.5,862.8 935.5,866.6 953.5,870.5 971.5,873.2 989.5,873.5 1007.5,874.7 1025.5,876.2 1043.5,880.9 1061.5,885.4 1079.5,889.7 1097.5,890.8 1115.5,893.0 1133.5,894.2 1151.5,894.2 1169.5,890.9 1186.5,888.3 1204.5,886.6 1222.5,885.3 1240.5,884.3 1258.5,883.5 1276.5,881.3 1294.5,880.9 1312.5,880.0 1330.5,879.8 1348.5,882.4 1366.5,885.5 1384.5,889.0 1402.5,896.1 1420.5,903.1 1438.5,909.6 1456.5,913.8 1474.5,916.1 1492.5,918.8 1510.5,920.2 1528.5,920.3 1546.5,918.5 1564.5,917.2 1582.5,915.2 1600.5,908.9 1618.5,905.1 1635.5,900.5 1653.5,895.2 1671.5,896.0 1689.5,897.2 1707.5,896.4 1725.5,895.9 1743.5,895.4 1761.5,898.1 1779.5,902.6 1797.5,907.6 1815.5,911.8 1833.5,915.5 1851.5,920.7 1869.5,923.9 1887.5,928.2 1905.5,930.3 1923.5,927.8 1941.5,924.6 1959.5,922.9 1977.5,922.2 1995.5,922.0 2013.5,921.7 2031.5,921.6 2049.5,920.7 2067.5,919.9 2085.5,919.7 2102.5,922.0 2120.5,924.2" fill="none" stroke="#FDD835" stroke-width="1.6" stroke-linejoin="round"/>
<polyline points="1.5,844.0 19.5,815.0 37.5,813.9 55.5,820.0 73.5,815.8 91.5,809.4 109.5,794.6 127.5,774.2 145.5,767.6 163.5,763.4 181.5,760.7 199.5,752.6 217.5,752.3 235.5,759.6 252.5,796.4 270.5,789.7 288.5,787.9 306.5,786.5 324.5,775.6 342.5,800.9 360.5,801.5 378.5,799.5 396.5,835.4 414.5,885.2 432.5,903.3 450.5,884.4 468.5,853.2 486.5,873.8 504.5,863.9 522.5,838.4 540.5,829.1 558.5,808.8 576.5,811.6 594.5,816.4 612.5,791.6 630.5,783.4 648.5,817.8 666.5,835.3 684.5,837.8 702.5,833.4 719.5,859.6 737.5,891.9 755.5,865.6 773.5,879.8 791.5,834.4 809.5,840.6 827.5,840.2 845.5,884.3 863.5,867.4 881.5,876.7 899.5,876.4 917.5,891.6 935.5,890.4 953.5,888.5 971.5,897.5 989.5,896.1 1007.5,882.0 1025.5,900.9 1043.5,899.7 1061.5,904.3 1079.5,899.9 1097.5,899.2 1115.5,898.6 1133.5,893.3 1151.5,876.5 1169.5,845.2 1186.5,854.0 1204.5,864.6 1222.5,879.3 1240.5,883.4 1258.5,870.2 1276.5,870.7 1294.5,893.3 1312.5,891.3 1330.5,897.2 1348.5,936.7 1366.5,941.5 1384.5,943.0 1402.5,975.2 1420.5,943.4 1438.5,945.3 1456.5,923.1 1474.5,910.7 1492.5,921.4 1510.5,889.6 1528.5,872.0 1546.5,868.7 1564.5,873.5 1582.5,869.1 1600.5,848.0 1618.5,888.0 1635.5,878.3 1653.5,901.2 1671.5,955.0 1689.5,961.5 1707.5,912.3 1725.5,903.6 1743.5,914.7 1761.5,927.0 1779.5,934.9 1797.5,939.7 1815.5,932.4 1833.5,920.6 1851.5,920.7 1869.5,932.1 1887.5,938.9 1905.5,931.5 1923.5,919.7 1941.5,916.7 1959.5,888.2 1977.5,893.8 1995.5,912.6 2013.5,921.8 2031.5,934.1 2049.5,926.7 2067.5,922.0 2085.5,916.6 2102.5,953.4 2120.5,962.5" fill="none" stroke="#7E57C2" stroke-width="1.7" stroke-linejoin="round"/>
</g>
<text x="27.5" y="71.4" textLength="305.5" lengthAdjust="spacingAndGlyphs">Ethereum / U.S. Dollar · 1D · Binance</text>
<text x="344.3" y="71.4" textLength="13.5" lengthAdjust="spacingAndGlyphs">O</text>
<text x="358.4" y="71.4" textLength="74.9" lengthAdjust="spacingAndGlyphs" style="fill:#F23645;">3,604.25</text>
<text x="444.5" y="71.4" textLength="13" lengthAdjust="spacingAndGlyphs">H</text>
<text x="458.2" y="71.4" textLength="74.9" lengthAdjust="spacingAndGlyphs" style="fill:#F23645;">3,653.34</text>
<text x="544.5" y="71.4" textLength="10" lengthAdjust="spacingAndGlyphs">L</text>
<text x="554.5" y="71.4" textLength="73.8" lengthAdjust="spacingAndGlyphs" style="fill:#F23645;">3,461.68</text>
<text x="638.8" y="71.4" textLength="13" lengthAdjust="spacingAndGlyphs">C</text>
<text x="651.4" y="71.4" textLength="76" lengthAdjust="spacingAndGlyphs" style="fill:#F23645;">3,508.34</text>
<text x="738.7" y="71.4" textLength="142.5" lengthAdjust="spacingAndGlyphs" style="fill:#F23645;">−95.67 (−2.65%)</text>
<text x="27.5" y="97.3" textLength="247" lengthAdjust="spacingAndGlyphs">EMA &amp; MA Crossover (10, 10)</text>
<text x="285.5" y="97.3" textLength="71.3" lengthAdjust="spacingAndGlyphs" style="fill:#FF0000;">3,871.53</text>
<text x="368.3" y="97.3" textLength="75" lengthAdjust="spacingAndGlyphs" style="fill:#0000FF;">3,936.00</text>
<text x="27.5" y="755.6" textLength="120" lengthAdjust="spacingAndGlyphs">RSI (14, close)</text>
<text x="159.2" y="755.6" textLength="47.3" lengthAdjust="spacingAndGlyphs" style="fill:#7E57C2;">33.78</text>
<text x="217.8" y="755.6" textLength="49" lengthAdjust="spacingAndGlyphs" style="fill:#FDD835;">43.64</text>
<text x="2404.2" y="103.1" textLength="79.5" lengthAdjust="spacingAndGlyphs" text-anchor="end">5,000.00</text>
<text x="2404.2" y="154" textLength="79.5" lengthAdjust="spacingAndGlyphs" text-anchor="end">4,800.00</text>
<text x="2404.2" y="204.9" textLength="79.5" lengthAdjust="spacingAndGlyphs" text-anchor="end">4,600.00</text>
<text x="2404.2" y="255.8" textLength="79.5" lengthAdjust="spacingAndGlyphs" text-anchor="end">4,400.00</text>
<text x="2404.2" y="306.7" textLength="79.5" lengthAdjust="spacingAndGlyphs" text-anchor="end">4,200.00</text>
<text x="2404.2" y="357.6" textLength="79.5" lengthAdjust="spacingAndGlyphs" text-anchor="end">4,000.00</text>
<text x="2404.2" y="408.5" textLength="79.5" lengthAdjust="spacingAndGlyphs" text-anchor="end">3,800.00</text>
<text x="2404.2" y="459.4" textLength="79.5" lengthAdjust="spacingAndGlyphs" text-anchor="end">3,600.00</text>
<text x="2404.2" y="510.3" textLength="79.5" lengthAdjust="spacingAndGlyphs" text-anchor="end">3,400.00</text>
<text x="2404.2" y="561.2" textLength="79.5" lengthAdjust="spacingAndGlyphs" text-anchor="end">3,200.00</text>
<text x="2404.2" y="612.1" textLength="79.5" lengthAdjust="spacingAndGlyphs" text-anchor="end">3,000.00</text>
<text x="2404.2" y="663" textLength="79.5" lengthAdjust="spacingAndGlyphs" text-anchor="end">2,800.00</text>
<text x="2404.2" y="713.9" textLength="79.5" lengthAdjust="spacingAndGlyphs" text-anchor="end">2,600.00</text>
<rect x="2316.3" y="47" width="95.5" height="38.5" rx="6" fill="#fff" stroke="#f0f0f1" stroke-width="1.6"/>
<text x="2330.9" y="72.1" textLength="37.5" lengthAdjust="spacingAndGlyphs">USD</text>
<path d="M2311,347.1 H2409 a3,3 0 0 1 3,3 V370.3 a3,3 0 0 1 -3,3 H2311 Z" fill="#0000FF"/>
<text x="2404.2" y="365.2" textLength="79.5" lengthAdjust="spacingAndGlyphs" style="fill:#fff;" text-anchor="end">3,936.00</text>
<path d="M2311,373.3 H2409 a3,3 0 0 1 3,3 V395.5 a3,3 0 0 1 -3,3 H2311 Z" fill="#FF0000"/>
<text x="2404.2" y="390" textLength="79.5" lengthAdjust="spacingAndGlyphs" style="fill:#fff;" text-anchor="end">3,871.53</text>
<path d="M2311,464 H2409 a3,3 0 0 1 3,3 V508.8 a3,3 0 0 1 -3,3 H2311 Z" fill="#FF0000"/>
<text x="2404.2" y="482.3" textLength="79.5" lengthAdjust="spacingAndGlyphs" style="fill:#fff;" text-anchor="end">3,508.34</text>
<text x="2404.2" y="503" textLength="78" lengthAdjust="spacingAndGlyphs" style="fill:#fff;" text-anchor="end" fill-opacity="0.85">12:29:18</text>
<text x="2375.2" y="788" textLength="50.5" lengthAdjust="spacingAndGlyphs" text-anchor="end">80.00</text>
<text x="2375.2" y="866.4" textLength="50.5" lengthAdjust="spacingAndGlyphs" text-anchor="end">60.00</text>
<text x="2375.2" y="944.9" textLength="50.5" lengthAdjust="spacingAndGlyphs" text-anchor="end">40.00</text>
<path d="M2311,911 H2379.7 a3,3 0 0 1 3,3 V934.8 a3,3 0 0 1 -3,3 H2311 Z" fill="#FDD835"/>
<text x="2375.2" y="931" textLength="50.5" lengthAdjust="spacingAndGlyphs" style="fill:#000;" text-anchor="end">43.64</text>
<path d="M2311,950 H2379.7 a3,3 0 0 1 3,3 V973.8 a3,3 0 0 1 -3,3 H2311 Z" fill="#7E57C2"/>
<text x="2375.2" y="970" textLength="50.5" lengthAdjust="spacingAndGlyphs" style="fill:#fff;" text-anchor="end">33.78</text>
<text x="38.46" y="1028.8" textLength="21.5" lengthAdjust="spacingAndGlyphs" text-anchor="middle">11</text>
<text x="128.27" y="1028.8" textLength="21.5" lengthAdjust="spacingAndGlyphs" text-anchor="middle">16</text>
<text x="218.07" y="1028.8" textLength="21.5" lengthAdjust="spacingAndGlyphs" text-anchor="middle">21</text>
<text x="307.88" y="1028.8" textLength="21.5" lengthAdjust="spacingAndGlyphs" text-anchor="middle">26</text>
<text x="415.64" y="1028.8" style="font-weight:bold;" text-anchor="middle">Aug</text>
<text x="505.45" y="1028.8" text-anchor="middle">6</text>
<text x="595.25" y="1028.8" textLength="21.5" lengthAdjust="spacingAndGlyphs" text-anchor="middle">11</text>
<text x="685.06" y="1028.8" textLength="21.5" lengthAdjust="spacingAndGlyphs" text-anchor="middle">16</text>
<text x="774.86" y="1028.8" textLength="21.5" lengthAdjust="spacingAndGlyphs" text-anchor="middle">21</text>
<text x="864.67" y="1028.8" textLength="21.5" lengthAdjust="spacingAndGlyphs" text-anchor="middle">26</text>
<text x="972.43" y="1028.8" style="font-weight:bold;" text-anchor="middle">Sep</text>
<text x="1062.24" y="1028.8" text-anchor="middle">6</text>
<text x="1152.04" y="1028.8" textLength="21.5" lengthAdjust="spacingAndGlyphs" text-anchor="middle">11</text>
<text x="1241.85" y="1028.8" textLength="21.5" lengthAdjust="spacingAndGlyphs" text-anchor="middle">16</text>
<text x="1331.65" y="1028.8" textLength="21.5" lengthAdjust="spacingAndGlyphs" text-anchor="middle">21</text>
<text x="1421.46" y="1028.8" textLength="21.5" lengthAdjust="spacingAndGlyphs" text-anchor="middle">26</text>
<text x="1511.26" y="1028.8" style="font-weight:bold;" text-anchor="middle">Oct</text>
<text x="1601.07" y="1028.8" text-anchor="middle">6</text>
<text x="1690.87" y="1028.8" textLength="21.5" lengthAdjust="spacingAndGlyphs" text-anchor="middle">11</text>
<text x="1780.68" y="1028.8" textLength="21.5" lengthAdjust="spacingAndGlyphs" text-anchor="middle">16</text>
<text x="1870.48" y="1028.8" textLength="21.5" lengthAdjust="spacingAndGlyphs" text-anchor="middle">21</text>
<text x="1960.29" y="1028.8" textLength="21.5" lengthAdjust="spacingAndGlyphs" text-anchor="middle">26</text>
<text x="2068.06" y="1028.8" style="font-weight:bold;" text-anchor="middle">Nov</text>
<text x="2157.86" y="1028.8" text-anchor="middle">6</text>
<text x="2247.67" y="1028.8" textLength="21.5" lengthAdjust="spacingAndGlyphs" text-anchor="middle">11</text>
<path d="M2135.16,663.34 A14.0,14.0 0 0 1 2111.13,676.38 M2108.24,663.34 A14.0,14.0 0 0 1 2126.03,653.89" fill="none" stroke="#9C27B0" stroke-width="2.1"/>
<circle cx="2131.7" cy="657" r="3.7" fill="#F23645"/>
<path d="M2126.6,659.0 L2114.8,668.3 L2121.6,667.9 L2116.6,676.2 L2128.0,666.2 L2121.0,666.6 Z" fill="#9C27B0"/>
<path d="M2097.8,672.5 Q2104.2,671.5 2105.6,665.1 Q2107,671.5 2113.4,672.5 Q2107,673.5 2105.6,680 Q2104.2,673.5 2097.8,672.5 Z" fill="#7B4DFF"/>
<clipPath id="fc2"><circle cx="2139.5" cy="704.3" r="12.2"/></clipPath>
<circle cx="2139.5" cy="704.3" r="14.3" fill="#fff" stroke="#F23645" stroke-width="2"/>
<g clip-path="url(#fc2)">
<rect x="2126.5" y="691.3" width="26" height="26" fill="#F5F7FC"/>
<rect x="2126.5" y="691.30" width="26" height="6.30" fill="#EF5350"/>
<rect x="2126.5" y="701.90" width="26" height="4.50" fill="#EF5350"/>
<rect x="2126.5" y="710.70" width="26" height="6.60" fill="#EF5350"/>
<rect x="2126.5" y="691.3" width="15.5" height="15.1" fill="#1E88E5"/>
<circle cx="2130.70" cy="695.80" r="1.2" fill="#fff"/>
<circle cx="2130.70" cy="699.70" r="1.2" fill="#fff"/>
<circle cx="2130.70" cy="703.60" r="1.2" fill="#fff"/>
<circle cx="2134.90" cy="695.80" r="1.2" fill="#fff"/>
<circle cx="2134.90" cy="699.70" r="1.2" fill="#fff"/>
<circle cx="2134.90" cy="703.60" r="1.2" fill="#fff"/>
<circle cx="2138.80" cy="695.80" r="1.2" fill="#fff"/>
<circle cx="2138.80" cy="699.70" r="1.2" fill="#fff"/>
<circle cx="2138.80" cy="703.60" r="1.2" fill="#fff"/>
</g>
<clipPath id="fc1"><circle cx="2121.5" cy="704.3" r="12.2"/></clipPath>
<circle cx="2121.5" cy="704.3" r="14.3" fill="#fff" stroke="#F23645" stroke-width="2"/>
<g clip-path="url(#fc1)">
<rect x="2108.5" y="691.3" width="26" height="26" fill="#F5F7FC"/>
<rect x="2108.5" y="691.30" width="26" height="6.30" fill="#EF5350"/>
<rect x="2108.5" y="701.90" width="26" height="4.50" fill="#EF5350"/>
<rect x="2108.5" y="710.70" width="26" height="6.60" fill="#EF5350"/>
<rect x="2108.5" y="691.3" width="15.5" height="15.1" fill="#1E88E5"/>
<circle cx="2112.70" cy="695.80" r="1.2" fill="#fff"/>
<circle cx="2112.70" cy="699.70" r="1.2" fill="#fff"/>
<circle cx="2112.70" cy="703.60" r="1.2" fill="#fff"/>
<circle cx="2116.90" cy="695.80" r="1.2" fill="#fff"/>
<circle cx="2116.90" cy="699.70" r="1.2" fill="#fff"/>
<circle cx="2116.90" cy="703.60" r="1.2" fill="#fff"/>
<circle cx="2120.80" cy="695.80" r="1.2" fill="#fff"/>
<circle cx="2120.80" cy="699.70" r="1.2" fill="#fff"/>
<circle cx="2120.80" cy="703.60" r="1.2" fill="#fff"/>
</g>
<clipPath id="fc3"><circle cx="2175.5" cy="704.3" r="12.2"/></clipPath>
<circle cx="2175.5" cy="704.3" r="14.3" fill="#fff" stroke="#F23645" stroke-width="2"/>
<g clip-path="url(#fc3)">
<rect x="2162.5" y="691.3" width="26" height="26" fill="#F5F7FC"/>
<rect x="2162.5" y="691.30" width="26" height="6.30" fill="#EF5350"/>
<rect x="2162.5" y="701.90" width="26" height="4.50" fill="#EF5350"/>
<rect x="2162.5" y="710.70" width="26" height="6.60" fill="#EF5350"/>
<rect x="2162.5" y="691.3" width="15.5" height="15.1" fill="#1E88E5"/>
<circle cx="2166.70" cy="695.80" r="1.2" fill="#fff"/>
<circle cx="2166.70" cy="699.70" r="1.2" fill="#fff"/>
<circle cx="2166.70" cy="703.60" r="1.2" fill="#fff"/>
<circle cx="2170.90" cy="695.80" r="1.2" fill="#fff"/>
<circle cx="2170.90" cy="699.70" r="1.2" fill="#fff"/>
<circle cx="2170.90" cy="703.60" r="1.2" fill="#fff"/>
<circle cx="2174.80" cy="695.80" r="1.2" fill="#fff"/>
<circle cx="2174.80" cy="699.70" r="1.2" fill="#fff"/>
<circle cx="2174.80" cy="703.60" r="1.2" fill="#fff"/>
</g>
<g fill="#131313">
<path d="M18.1,1076.1 H35.9 V1098.5 H27.2 V1084.7 H18.1 Z"/>
<circle cx="43.5" cy="1080.4" r="4.35"/>
<path d="M52.5,1076.1 H62.8 L53.6,1098.5 H43.9 Z"/>
</g>
<text x="73.4" y="1098.5" textLength="181.5" lengthAdjust="spacingAndGlyphs" style="fill:#131313;font-size:32px;font-weight:bold;">TradingView</text>
</svg></body></html>
